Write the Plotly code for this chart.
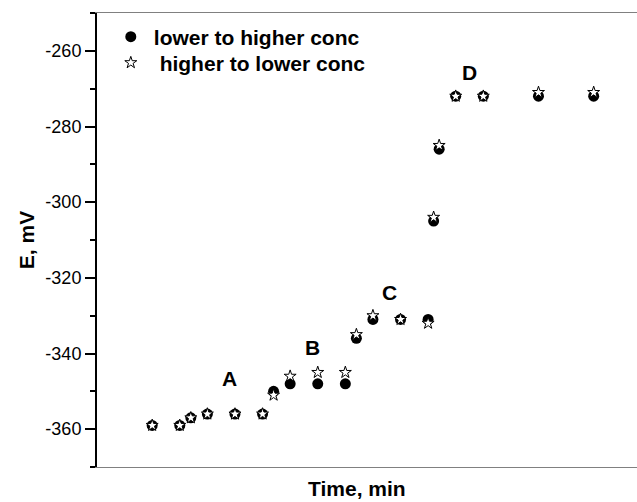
import plotly.graph_objects as go

# Time (min, arbitrary scale — no tick labels in the original)
time_min = [2, 3, 3.4, 4, 5, 6, 6.4, 7, 8, 9, 9.4, 10, 11, 12, 12.2, 12.4, 13, 14, 16, 18]
# E (mV), lower to higher concentration (filled circles)
e_low_to_high = [-359, -359, -357, -356, -356, -356, -350, -348, -348, -348,
                 -336, -331, -331, -331, -305, -286, -272, -272, -272, -272]
# E (mV), higher to lower concentration (stars)
e_high_to_low = [-359, -359, -357, -356, -356, -356, -351, -346, -345, -345,
                 -335, -330, -331, -332, -304, -285, -272, -272, -271, -271]

region_labels = ["A", "B", "C", "D"]
region_x = [4.8, 7.8, 10.6, 13.5]
region_y = [-346.7, -338.3, -324, -265.6]

y_ticks = [-360, -340, -320, -300, -280, -260]
y_ticktext = ["-360", "-340", "-320", "-300", "-280", "-260"]

FONT = "Liberation Sans, Arial, sans-serif"
legend_font = dict(family=FONT, size=21, color="black", weight="bold")

fig = go.Figure()
fig.add_trace(go.Scatter(
    x=time_min, y=e_low_to_high, mode="markers", name="lower to higher conc",
    marker=dict(symbol="circle", size=11, color="black", line=dict(width=0)),
    legend="legend",
))
fig.add_trace(go.Scatter(
    x=time_min, y=e_high_to_low, mode="markers", name="\u00a0higher to lower conc",
    marker=dict(symbol="star", size=9, color="white", line=dict(width=1, color="black")),
    legend="legend2",
))

for lab, lx, ly in zip(region_labels, region_x, region_y):
    fig.add_annotation(x=lx, y=ly, text=lab, showarrow=False,
                       font=dict(family=FONT, size=21, color="black", weight="bold"))

fig.add_annotation(x=(357 - 97) / 540, y=0, xref="paper", yref="paper",
                   yshift=-21, text="Time, min", showarrow=False, yanchor="middle",
                   font=dict(family=FONT, size=21, color="black", weight="bold"))

fig.update_layout(
    width=637, height=502,
    margin=dict(l=97, r=0, t=13, b=35),
    paper_bgcolor="white", plot_bgcolor="white",
    showlegend=True,
    legend=dict(x=0.02, y=1 - 24 / 454, xanchor="left", yanchor="middle", itemwidth=36,
                bgcolor="rgba(0,0,0,0)", font=legend_font),
    legend2=dict(x=0.02, y=1 - 50 / 454, xanchor="left", yanchor="middle", itemwidth=36,
                 bgcolor="rgba(0,0,0,0)", font=legend_font),
    xaxis=dict(range=[0, 19.57], showgrid=False, zeroline=False,
               showline=True, linecolor="#808080", linewidth=1, mirror=True,
               ticks="", showticklabels=False),
    yaxis=dict(range=[-370, -250], showgrid=False, zeroline=False,
               showline=True, linecolor="black", linewidth=2, mirror=False,
               tickvals=y_ticks, ticktext=y_ticktext,
               ticks="outside", ticklen=10, tickwidth=2, tickcolor="black",
               tickfont=dict(family=FONT, size=18, color="black"),
               minor=dict(dtick=10, tick0=-370, ticks="outside", ticklen=5, tickwidth=2, tickcolor="black"),
               title=dict(text="E, mV", standoff=5,
                          font=dict(family=FONT, size=21, color="black", weight="bold"))),
)

fig.write_html("out.html")
